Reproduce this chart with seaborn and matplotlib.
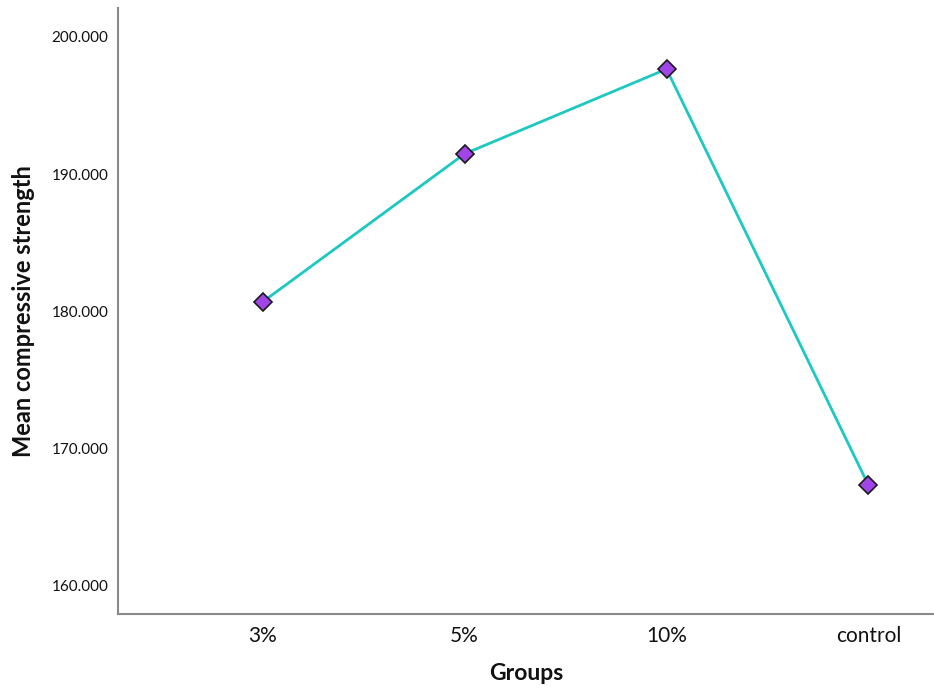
import matplotlib
matplotlib.use("Agg")
import matplotlib.pyplot as plt
import seaborn as sns
import pandas as pd

groups = ["3%", "5%", "10%", "control"]
means = [180.70, 191.48, 197.65, 167.35]
yticks = [160, 170, 180, 190, 200]

sns.set_theme(style="white")
plt.rcParams["font.family"] = ["Lato", "DejaVu Sans"]

df = pd.DataFrame({"Groups": groups, "Mean": means})

fig = plt.figure(figsize=(9.34, 6.89), dpi=100)
ax = fig.add_axes([118/934, 75/689, 1 - 118/934, (614 - 8)/689])

sns.lineplot(data=df, x="Groups", y="Mean", ax=ax, color="#1DC8C0", linewidth=2,
             marker="D", markersize=9, markerfacecolor="#A245E8",
             markeredgecolor="#1a1a1a", markeredgewidth=1.2, sort=False)

ax.set_xlim(-0.717, 3.325)
ax.set_ylim(157.96, 202.1)
ax.set_yticks(yticks)
ax.set_yticklabels([f"{v:.3f}" for v in yticks], fontsize=11, color="#111111")
ax.set_xticks(range(len(groups)))
ax.set_xticklabels(groups, fontsize=15, color="#111111")
ax.tick_params(axis="both", length=0)
ax.tick_params(axis="y", pad=7)
ax.tick_params(axis="x", pad=9)

ax.set_xlabel("Groups", fontsize=16.5, fontweight="bold", labelpad=12, color="#111111")
ax.set_ylabel("Mean compressive strength", fontsize=17, fontweight="bold", labelpad=12, color="#111111")

for s in ["top", "right"]:
    ax.spines[s].set_visible(False)
for s in ["left", "bottom"]:
    ax.spines[s].set_color("#8a8a8a")
    ax.spines[s].set_linewidth(1.5)

fig.savefig("out.png", dpi=100, facecolor="white")
